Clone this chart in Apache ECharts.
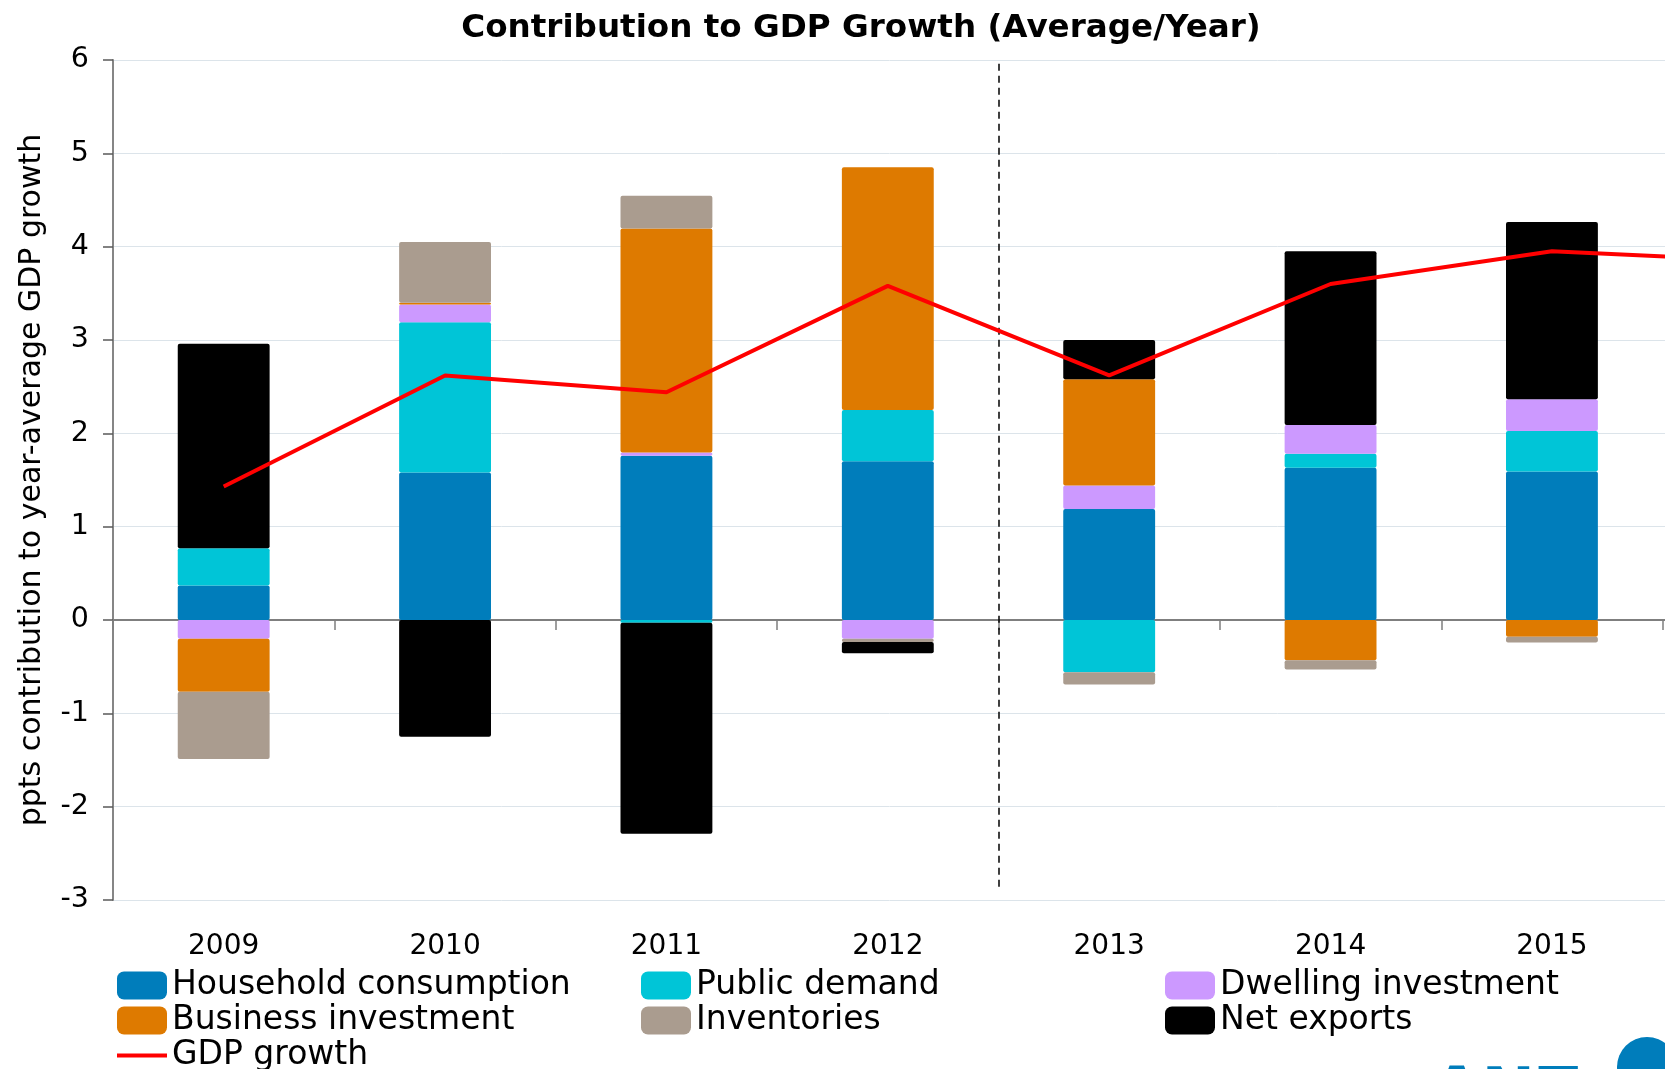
<!DOCTYPE html>
<html>
<head>
<meta charset="utf-8">
<script src="https://cdn.jsdelivr.net/npm/echarts@6/dist/echarts.min.js"></script>
<style>
html,body{margin:0;padding:0;background:#fff;}
#chart{width:1665px;height:1069px;}
</style>
</head>
<body>
<div id="chart"></div>
<script>
// Categories (2016 lies beyond the cropped right edge; only the GDP line reaches toward it)
const categories = ['2009', '2010', '2011', '2012', '2013', '2014', '2015', '2016'];
const yTicks = [-3, -2, -1, 0, 1, 2, 3, 4, 5, 6];

const household   = [0.37, 1.58, 1.76, 1.70, 1.19, 1.63, 1.59, null];
const publicDem   = [0.40, 1.61, -0.03, 0.55, -0.56, 0.15, 0.435, null];
const dwelling    = [-0.20, 0.19, 0.035, -0.20, 0.25, 0.31, 0.34, null];
const business    = [-0.57, 0.02, 2.40, 2.60, 1.14, -0.43, -0.18, null];
const inventories = [-0.72, 0.65, 0.35, -0.035, -0.13, -0.10, -0.06, null];
const netExports  = [2.19, -1.25, -2.26, -0.12, 0.42, 1.86, 1.90, null];
const gdpGrowth   = [1.43, 2.62, 2.44, 3.58, 2.62, 3.60, 3.95, 3.84];

// dashed divider between 2012 and 2013 (category boundary index 4), y extent
const dividerAt = 4;
const dividerRange = [5.96, -2.86];

const FONT = 'DejaVu Sans';
const chart = echarts.init(document.getElementById('chart'), null, {renderer: 'canvas'});

function barSeries(name, data, color) {
  return {
    name: name, type: 'bar', stack: 'total', data: data,
    xAxisIndex: 0, yAxisIndex: 0,
    barWidth: '41.5%',
    itemStyle: {color: color, borderRadius: 2},
    emphasis: {disabled: true},
    animation: false
  };
}

function legendBlock(left, top, items) {
  return {
    left: left, top: top, orient: 'vertical', itemGap: 0, height: 200,
    itemWidth: 50, itemHeight: 28, padding: 0,
    textStyle: {fontFamily: FONT, fontSize: 33, color: '#000', lineHeight: 35},
    data: items
  };
}

const option = {
  animation: false,
  textStyle: {fontFamily: FONT, color: '#000'},
  title: {
    text: 'Contribution to GDP Growth (Average/Year)',
    left: 856, textAlign: 'center', top: 7,
    textStyle: {fontFamily: FONT, fontWeight: 'bold', fontSize: 32.6, color: '#000'}
  },
  legend: [
    legendBlock(117, 968, [
      {name: 'Household consumption', icon: 'roundRect'},
      {name: 'Business investment', icon: 'roundRect'}
    ]),
    legendBlock(117, 1038, [
      {name: 'GDP growth', icon: 'path://M0,0 H48 V4 H0 Z'}
    ]),
    legendBlock(641, 968, [
      {name: 'Public demand', icon: 'roundRect'},
      {name: 'Inventories', icon: 'roundRect'}
    ]),
    legendBlock(1165, 968, [
      {name: 'Dwelling investment', icon: 'roundRect'},
      {name: 'Net exports', icon: 'roundRect'}
    ])
  ],
  grid: {left: 113, top: 60, bottom: 169, right: -219, containLabel: false, outerBoundsMode: 'none'},
  xAxis: [
    {
      type: 'category', data: categories, position: 'bottom',
      axisLine: {onZero: true, lineStyle: {color: '#7f7f7f', width: 2}},
      axisTick: {show: true, length: 10, lineStyle: {color: '#7f7f7f', width: 1.5}},
      axisLabel: {show: false},
      splitLine: {show: false}
    },
    {
      type: 'category', data: categories, position: 'bottom',
      axisLine: {show: false, onZero: false},
      axisTick: {show: false},
      axisLabel: {show: true, margin: 33, fontSize: 28, fontFamily: FONT, color: '#000'},
      splitLine: {show: false}
    },
    {
      type: 'value', min: 0, max: categories.length, show: false,
      splitLine: {show: false}
    }
  ],
  yAxis: [{
    type: 'value', min: yTicks[0], max: yTicks[yTicks.length - 1], interval: 1,
    name: 'ppts contribution to year-average GDP growth',
    nameLocation: 'middle', nameGap: 66,
    nameTextStyle: {fontFamily: FONT, fontSize: 30, color: '#000'},
    axisLine: {show: true, lineStyle: {color: '#868686', width: 2}},
    axisTick: {show: true, length: 10, lineStyle: {color: '#5a5a5a', width: 1.5}},
    axisLabel: {margin: 24, fontSize: 28.5, fontFamily: FONT, color: '#000'},
    splitLine: {show: true, lineStyle: {color: '#dce4ea', width: 1}}
  }],
  series: [
    barSeries('Household consumption', household, '#007DBB'),
    barSeries('Public demand', publicDem, '#00C5D7'),
    barSeries('Dwelling investment', dwelling, '#CC99FF'),
    barSeries('Business investment', business, '#DE7A00'),
    barSeries('Inventories', inventories, '#AA9C8F'),
    barSeries('Net exports', netExports, '#000000'),
    {
      name: 'GDP growth', type: 'line', data: gdpGrowth,
      xAxisIndex: 0, yAxisIndex: 0,
      symbol: 'none', z: 5,
      lineStyle: {color: '#FF0000', width: 4},
      itemStyle: {color: '#FF0000'},
      emphasis: {disabled: true}
    },
    {
      name: 'divider', type: 'line', data: [],
      xAxisIndex: 2, yAxisIndex: 0, silent: true,
      markLine: {
        silent: true, symbol: ['none', 'none'],
        label: {show: false},
        lineStyle: {color: '#000', type: [7, 5], width: 1.5},
        emphasis: {disabled: true},
        data: [[{coord: [dividerAt, dividerRange[0]]}, {coord: [dividerAt, dividerRange[1]]}]]
      }
    }
  ],
  graphic: [
    {
      type: 'circle', shape: {cx: 1647, cy: 1067, r: 30},
      style: {fill: '#007DBB'}, silent: true
    },
    {
      type: 'text', left: 1432, top: 1064, silent: true,
      style: {text: 'ANZ', fill: '#007DBB', font: 'bold 64px "DejaVu Sans"'}
    }
  ]
};

chart.setOption(option);
</script>
</body>
</html>
